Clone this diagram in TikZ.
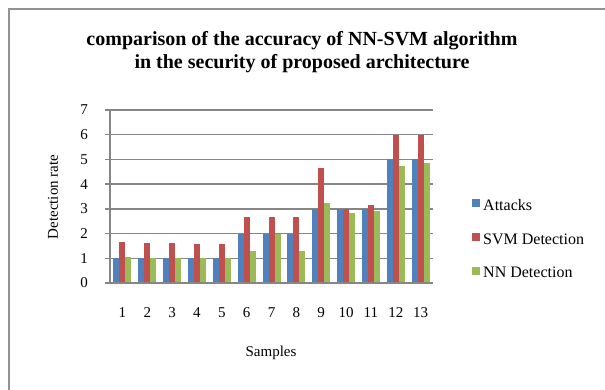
\documentclass[tikz,border=0pt]{standalone}
\usepackage{fontspec}
\setmainfont{Liberation Serif}
\usetikzlibrary{positioning}
\definecolor{attackblue}{HTML}{4F81BD}
\definecolor{svmred}{HTML}{C0504D}
\definecolor{nngreen}{HTML}{9BBB59}
\definecolor{gridgray}{HTML}{868686}

\begin{document}
\begin{tikzpicture}[x=1pt,y=-1pt,
  grid/.style={draw=gridgray,line width=1.4pt},
  frame/.style={draw=gridgray!90,line width=2pt},
  lbl/.style={font=\fontsize{15}{15}\selectfont,inner sep=0pt},
  legend/.style={font=\fontsize{16}{16}\selectfont,inner sep=0pt,anchor=west}]

  \useasboundingbox (0,0) rectangle (605,390);

  % outer frame (left and top only)
  \draw[frame] (9,390) -- (9,9) -- (605,9);

  % title
  \node[font=\bfseries\fontsize{20}{23}\selectfont,align=center] (title) at (302,52)
    {comparison of the accuracy of NN-SVM algorithm\\in the security of proposed architecture};

  % grid and axis
  \foreach \v in {1,...,7}
    \draw[grid] (110,{283-\v*24.71}) -- (433,{283-\v*24.71});
  \foreach \v in {0,...,7} {
    \draw[grid] (105,{283-\v*24.71}) -- (110,{283-\v*24.71});
    \node[lbl] (y\v) at (84,{283-\v*24.71}) {\v};
  }

  % bars: sample / attacks / svm / nn
  \foreach \i/\a/\s/\n in {1/1/1.66/1.06, 2/1/1.6/1, 3/1/1.6/1, 4/1/1.58/1,
      5/1/1.58/1, 6/2/2.68/1.3, 7/2/2.67/2, 8/2/2.68/1.3, 9/3/4.64/3.23,
      10/3/3/2.82, 11/3/3.16/2.92, 12/5/6/4.75, 13/5/6/4.85} {
    \pgfmathsetmacro{\cx}{110+24.85*(\i-0.5)}
    \fill[attackblue] ({\cx-9},283) rectangle ({\cx-3},{283-\a*24.71});
    \fill[svmred] ({\cx-3},283) rectangle ({\cx+3},{283-\s*24.71});
    \fill[nngreen] ({\cx+3},283) rectangle ({\cx+9},{283-\n*24.71});
    \node[lbl] (x\i) at (\cx,313) {\i};
  }

  \draw[grid] (110,283) -- (110,110.0);
  \draw[grid] (110,283) -- (433,283);

  % axis titles
  \node[lbl] (samples) at (271,353) {Samples};
  \node[lbl,rotate=90] (rate) at (53,197) {Detection rate};

  % legend
  \fill[attackblue] (472,199.5) rectangle (480,207.5);
  \node[legend] (leg1) at (483,205) {Attacks};
  \fill[svmred] (472,233.5) rectangle (480,241.5);
  \node[legend] (leg2) at (483,239) {SVM Detection};
  \fill[nngreen] (472,267) rectangle (480,275);
  \node[legend] (leg3) at (483,272.5) {NN Detection};

\end{tikzpicture}
\end{document}
